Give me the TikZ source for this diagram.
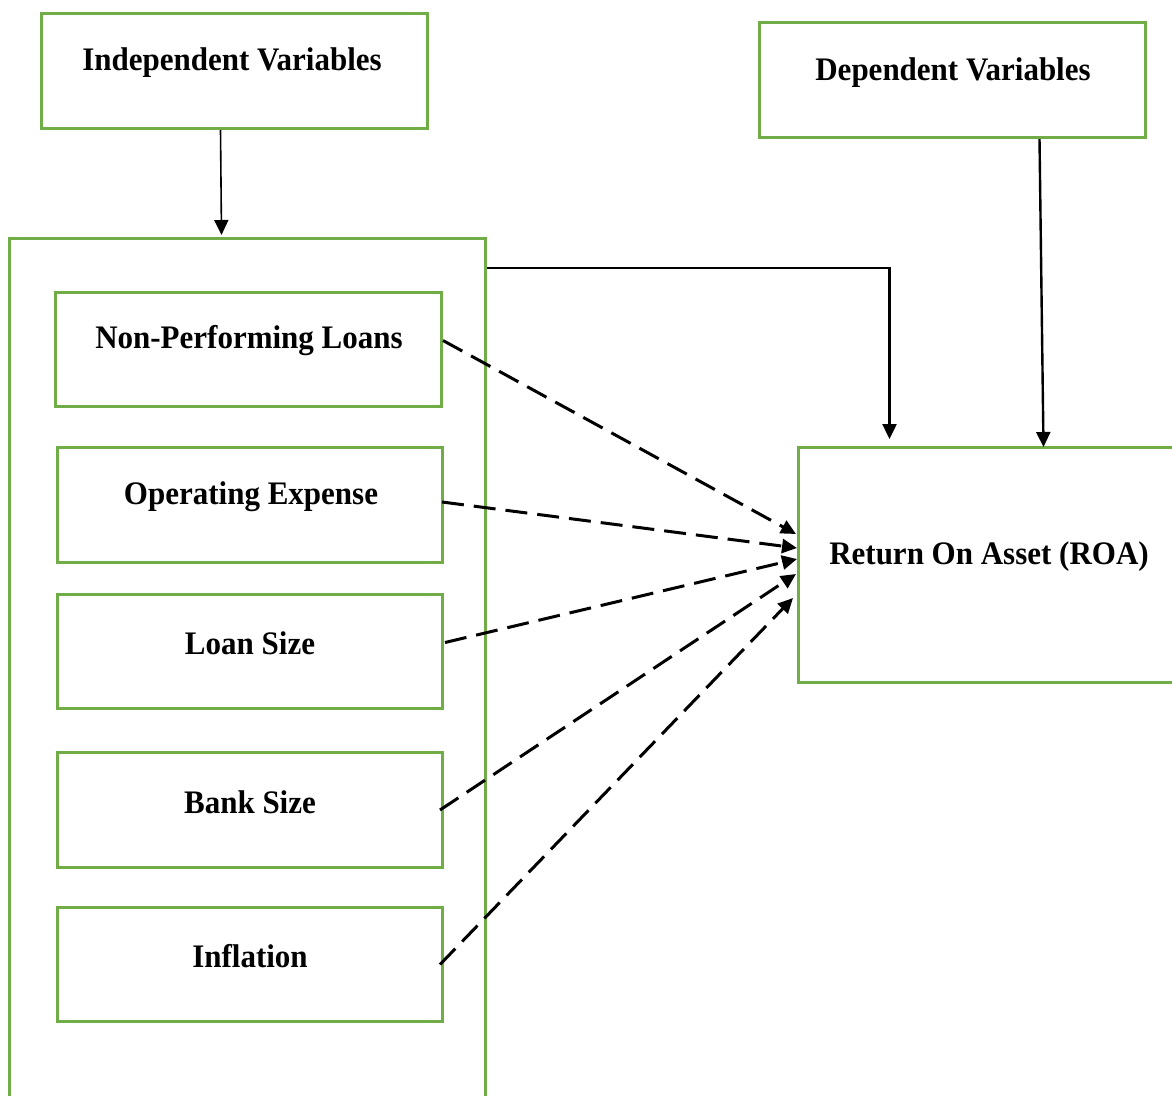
\documentclass[tikz,border=0pt]{standalone}
\usepackage{fontspec}
\setmainfont{Liberation Serif}
\usetikzlibrary{arrows.meta}
\definecolor{boxgreen}{HTML}{70AD47}
\tikzset{
  gbox/.style={draw=boxgreen, line width=3pt, rectangle, inner sep=0pt, anchor=north west},
  lbl/.style={font=\fontsize{31}{37}\selectfont\bfseries, inner sep=0pt, yscale=1.06},
  arr/.style={draw=black, line width=2.4pt, -{Triangle[length=15pt,width=14pt]}},
  darr/.style={draw=black, line width=3pt, dash pattern=on 22pt off 10pt, -{Triangle[length=15pt,width=14pt]}}
}
\begin{document}
\begin{tikzpicture}[x=1pt,y=-1pt]
\useasboundingbox (0,0) rectangle (1172,1095);
\fill[white] (0,0) rectangle (1172,1095);
% boxes
\node[gbox, minimum width=386pt, minimum height=115pt] (indep) at (40,12) {};
\node[gbox, minimum width=386pt, minimum height=115pt] (dep) at (758,21) {};
\node[gbox, minimum width=476pt, minimum height=870pt] (cont) at (8,237) {};
\node[gbox, minimum width=386pt, minimum height=114pt] (npl) at (54,291) {};
\node[gbox, minimum width=385pt, minimum height=115pt] (opex) at (56,446) {};
\node[gbox, minimum width=385pt, minimum height=114pt] (loan) at (56,593) {};
\node[gbox, minimum width=385pt, minimum height=115pt] (bank) at (56,751) {};
\node[gbox, minimum width=385pt, minimum height=114pt] (infl) at (56,906) {};
\node[gbox, minimum width=384pt, minimum height=235pt] (roa) at (797,446) {};
% labels
\node[lbl] (tindep) at (232,63) {Independent Variables};
\node[lbl] (tdep) at (953,73) {Dependent Variables};
\node[lbl] (tnpl) at (249,341) {Non-Performing Loans};
\node[lbl] (topex) at (251,497) {Operating Expense};
\node[lbl] (tloan) at (250,643) {Loan Size};
\node[lbl] (tbank) at (250,802) {Bank Size};
\node[lbl] (tinfl) at (250,956) {Inflation};
\node[lbl] (troa) at (989,557) {Return On Asset (ROA)};
% solid arrows
\draw[arr, line width=1.6pt] ([xshift=-14pt]indep.south) -- ([xshift=-26pt,yshift=2pt]cont.north);
\draw[arr] ([yshift=-31pt]cont.north east) -| ([xshift=-101pt,yshift=7pt]roa.north);
\draw[arr] ([xshift=87pt]dep.south) -- ([xshift=53pt,yshift=-1pt]roa.north);
% dashed arrows
\draw[darr] ([yshift=9pt]npl.east) -- ([xshift=-1pt,yshift=31pt]roa.west);
\draw[darr] ([xshift=-2pt,yshift=3pt]opex.east) -- ([yshift=17pt]roa.west);
\draw[darr] ([xshift=1pt,yshift=9pt]loan.east) -- ([yshift=6pt]roa.west);
\draw[darr] ([xshift=-4pt]bank.east) -- ([xshift=-1pt,yshift=-9pt]roa.west);
\draw[darr] ([xshift=-4pt]infl.east) -- ([xshift=-4pt,yshift=-33pt]roa.west);
\end{tikzpicture}
\end{document}
